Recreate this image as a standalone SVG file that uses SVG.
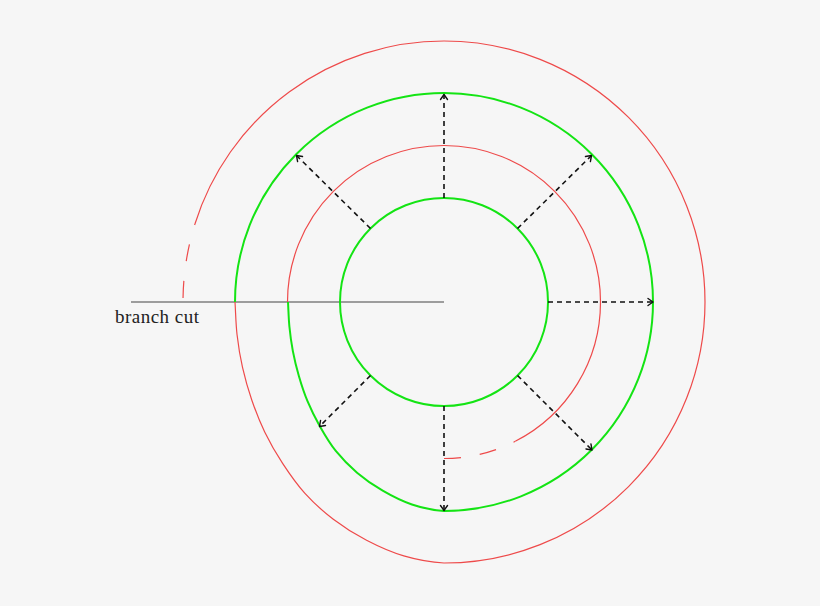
<svg xmlns="http://www.w3.org/2000/svg" width="820" height="606" viewBox="0 0 820 606">
<style>
.green{fill:none;stroke:#14e414;stroke-width:2;stroke-linejoin:round}
.red{fill:none;stroke:#ee4a4a;stroke-width:1.2;stroke-linejoin:round}
.reddash{fill:none;stroke:#ee4a4a;stroke-width:1.2}
.arrow{fill:none;stroke:#111;stroke-width:1.6;stroke-dasharray:5 4;marker-end:url(#head)}
.cut{stroke:#444;stroke-width:1.2}
.label{font-family:"Liberation Serif","Times New Roman",serif;font-size:19px;fill:#222}
</style>
<defs>
<marker id="head" markerUnits="userSpaceOnUse" markerWidth="12" markerHeight="12" refX="0" refY="0" orient="auto" overflow="visible">
<path d="M -5 -3.5 L 0 0 L -5 3.5" fill="none" stroke="#111" stroke-width="1.4" stroke-dasharray="none" stroke-linecap="round" stroke-linejoin="round"/>
</marker>
</defs>
<rect width="820" height="606" fill="#f6f6f6"/>
<g id="branch-cut">
<line class="cut" x1="131" y1="302" x2="444" y2="302"/>
<text class="label" x="115" y="322.5" textLength="84" lengthAdjust="spacing">branch cut</text>
</g>
<g id="inner-green">
<circle class="green" cx="444" cy="302" r="104"/>
</g>
<g id="outer-green">
<path class="green" d="M 235 302 A 209 209 0 0 1 444 93 A 209 209 0 0 1 653 302 A 209 209 0 0 1 444 511 C 433.21 510.35 422.15 507.9 411.93 504.51 C 401.71 501.12 391.84 496 382.69 490.69 C 373.54 485.38 364.88 479.27 357.06 472.64 C 349.24 466.01 342 458.67 335.79 450.93 C 329.58 443.19 324.54 434.47 319.82 426.18 C 315.1 417.89 310.99 409.54 307.5 401.17 C 304.01 392.8 301.3 384.29 298.86 375.95 C 296.42 367.61 294.44 359.35 292.86 351.11 C 291.28 342.87 290.21 334.68 289.4 326.49 C 288.59 318.3 288.47 310.16 288 302"/>
</g>
<g id="inner-red">
<path class="red" d="M 287.5 302 A 156.5 156.5 0 0 1 444 145.5 A 156.5 156.5 0 0 1 600.5 302 A 156.5 156.5 0 0 1 515.29 441.32"/>
<path class="reddash" stroke-dasharray="17 19" d="M 444 458.5 A 156.5 156.5 0 0 0 515.29 441.32"/>
</g>
<g id="outer-red">
<path class="red" d="M 194.94 223.95 A 261 261 0 0 1 444 41 A 261 261 0 0 1 705 302 A 261 261 0 0 1 444 563 C 430.49 562.36 416.69 559.72 403.78 555.94 C 390.87 552.16 378.31 546.44 366.56 540.33 C 354.81 534.22 343.57 527.09 333.3 519.26 C 323.03 511.43 313.4 502.69 304.95 493.38 C 296.5 484.07 289.3 473.59 282.61 463.39 C 275.92 453.19 269.96 442.75 264.82 432.18 C 259.68 421.61 255.48 410.74 251.76 399.95 C 248.04 389.16 244.96 378.33 242.51 367.47 C 240.06 356.61 238.31 345.69 237.06 334.78 C 235.81 323.87 235.69 312.93 235 302"/>
<path class="reddash" stroke-dasharray="17 20" d="M 183.03 297.9 A 261 261 0 0 1 194.94 223.95"/>
</g>
<g id="connectors">
<line class="arrow" x1="444" y1="198" x2="444" y2="94.5"/>
<line class="arrow" x1="517.5" y1="228.5" x2="591.5" y2="155.5"/>
<line class="arrow" x1="548" y1="302" x2="653" y2="302"/>
<line class="arrow" x1="517.5" y1="375.5" x2="592" y2="450"/>
<line class="arrow" x1="444" y1="406" x2="444" y2="510.5"/>
<line class="arrow" x1="370.5" y1="375.5" x2="319.5" y2="426.5"/>
<line class="arrow" x1="370.5" y1="228.5" x2="296.5" y2="155.5"/>
</g>
</svg>
